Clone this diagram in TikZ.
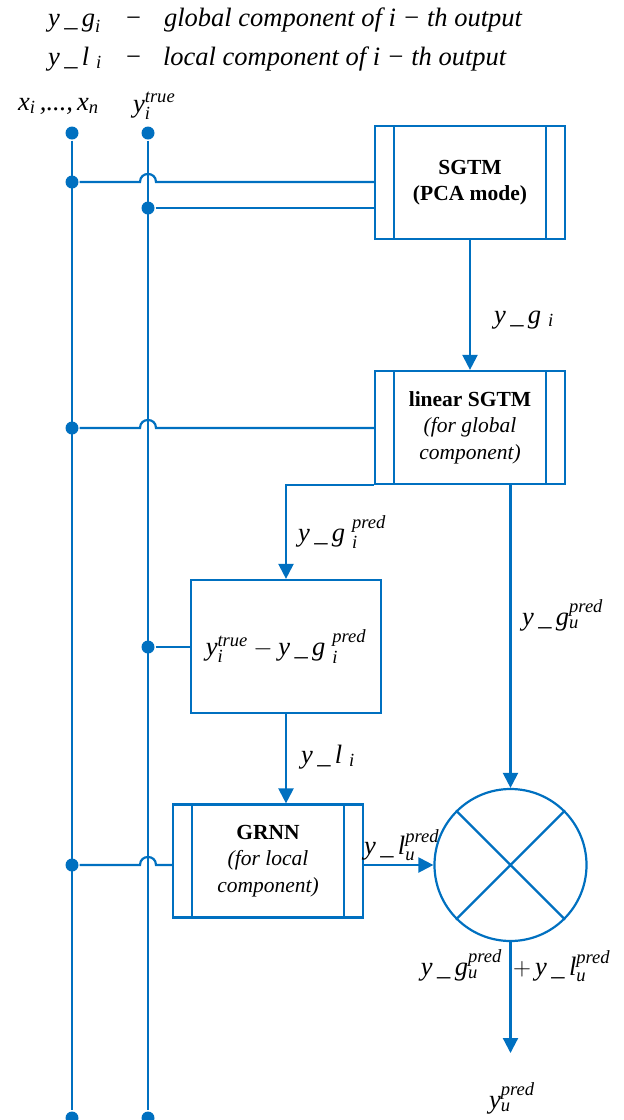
\documentclass[tikz,border=0pt]{standalone}
\usepackage{amsmath}
\usepackage{fontspec}
\setmainfont{Liberation Serif}
\usetikzlibrary{arrows.meta,positioning,calc}
\definecolor{lnblue}{HTML}{0070C0}
\newcommand{\vi}[1]{\textit{#1}}
\newcommand{\yg}{\vi{y\,\_\,g}}
\newcommand{\yl}{\vi{y\,\_\,l}}
\newcommand{\boxfont}{\fontsize{21.5}{26.5}\selectfont}
\newcommand{\labfont}{\fontsize{26.5}{30}\selectfont}

\begin{document}
\begin{tikzpicture}[x=1pt,y=-1pt,line width=2.2pt,
  every node/.style={text=black},
  proc/.style={rectangle,draw=lnblue,minimum width=190pt,minimum height=113pt,
    inner sep=0pt,align=center,font=\boxfont,
    path picture={\draw[lnblue,line width=2.2pt]
      ([xshift=19pt]path picture bounding box.north west) -- ([xshift=19pt]path picture bounding box.south west)
      ([xshift=-19pt]path picture bounding box.north east) -- ([xshift=-19pt]path picture bounding box.south east);}},
  plainbox/.style={rectangle,draw=lnblue,minimum width=190pt,minimum height=133pt,
    inner sep=0pt,align=center,font=\labfont},
  junc/.style={circle,fill=lnblue,inner sep=0pt,minimum size=13pt},
  lab/.style={font=\labfont,inner sep=0pt},
  wire/.style={draw=lnblue},
  arr/.style={draw=lnblue,-{Triangle[length=15pt,width=15pt]}}]
  \useasboundingbox (0,0) rectangle (624,1120);
  % legend
  \node[lab,anchor=base west] (h1a) at (47,26) {$\yg_{\vi{i}}$};
  \node[lab,anchor=base west] (h1m) at (125,26) {−};
  \node[lab,anchor=base west] (h1b) at (163,26) {\vi{global component of i − th output}};
  \node[lab,anchor=base west] (h2a) at (47,65) {$\yl\;{}_{\vi{i}}$};
  \node[lab,anchor=base west] (h2m) at (125,65) {−};
  \node[lab,anchor=base west] (h2b) at (162,65) {\vi{local component of i − th output}};
  % inputs
  \node[lab,anchor=base west] (lx) at (17,110) {$\vi{x}_{\vi{i}}\vi{\,,...,}\,\vi{x}_{\vi{n}}$};
  \node[lab,anchor=base west] (ly) at (132,112) {$\vi{y}^{\vi{true}}_{\vi{i}}$};
  \node[junc] (xt) at (72,133) {};
  \node[junc] (yt) at (148,133) {};
  \node[junc] (xb) at (72,1118) {};
  \node[junc] (yb) at (148,1118) {};
  \node[junc] (j1) at (72,182) {};
  \node[junc] (j2) at (148,208) {};
  \node[junc] (j3) at (72,428) {};
  \node[junc] (j4) at (148,647) {};
  \node[junc] (j5) at (72,865) {};
  % blocks
  \node[proc] (sgtm) at (470,182.5) {\textbf{SGTM}\\\textbf{(PCA mode)}};
  \node[proc] (lin) at (470,427.5) {\textbf{linear SGTM}\\\vi{(for global}\\\vi{component)}};
  \node[plainbox] (diff) at (286,646.5) {$\vi{y}^{\vi{true}}_{\vi{i}}-\yg\;{}^{\vi{pred}}_{\vi{i}}$};
  \node[proc] (grnn) at (268,861) {\textbf{GRNN}\\\vi{(for local}\\\vi{component)}};
  \node[circle,draw=lnblue,minimum size=152pt,inner sep=0pt] (sum) at (510.5,865) {};
  \coordinate (yend) at (510.5,1053);
  % connectors
  \draw[wire] (xt) -- (xb);
  \draw[wire] (yt) -- (yb);
  \draw[wire] (j1) -- ($(j1 -| yt)+(-8,0)$) .. controls +(0,-10.7) and +(0,-10.7) .. ($(j1 -| yt)+(8,0)$) -- (j1 -| sgtm.west);
  \draw[wire] (j2) -- (j2 -| sgtm.west);
  \draw[arr] (sgtm) -- (lin);
  \draw[wire] (j3) -- ($(j3 -| yt)+(-8,0)$) .. controls +(0,-10.7) and +(0,-10.7) .. ($(j3 -| yt)+(8,0)$) -- (j3 -| lin.west);
  \draw[arr] (lin.south west) -| (diff.north);
  \draw[arr] (lin.south -| sum) -- (sum.north);
  \draw[wire] (j4) -- (j4 -| diff.west);
  \draw[arr] (diff.south) -- (diff.south |- grnn.north);
  \draw[wire] (j5) -- ($(j5 -| yt)+(-8,0)$) .. controls +(0,-10.7) and +(0,-10.7) .. ($(j5 -| yt)+(8,0)$) -- (j5 -| grnn.west);
  \draw[arr] (grnn.east |- sum) -- (sum.west);
  \draw[wire] (sum.north west) -- (sum.south east) (sum.north east) -- (sum.south west);
  \draw[arr] (sum.south) -- (yend);
  % labels
  \node[lab,anchor=base west] (lyg) at (493,323) {$\yg\;{}_{\vi{i}}$};
  \node[lab,anchor=base west] (lygp) at (297,541) {$\yg\;{}^{\vi{pred}}_{\vi{i}}$};
  \node[lab,anchor=base west] (lygu) at (521,625) {$\yg^{\vi{pred}}_{\vi{u}}$};
  \node[lab,anchor=base west] (lyl) at (300,763) {$\yl\;{}_{\vi{i}}$};
  \node[lab,anchor=base west] (lylu) at (363,854) {$\yl^{\vi{pred}}_{\vi{u}}$};
  \node[lab,anchor=base east] (ls1) at (503,975) {$\yg^{\vi{pred}}_{\vi{u}}$};
  \node[lab,anchor=base west] (ls2) at (512,975) {$+\,\yl^{\vi{pred}}_{\vi{u}}$};
  \node[lab,anchor=base west] (lyu) at (488,1108) {$\vi{y}^{\vi{pred}}_{\vi{u}}$};
\end{tikzpicture}
\end{document}
